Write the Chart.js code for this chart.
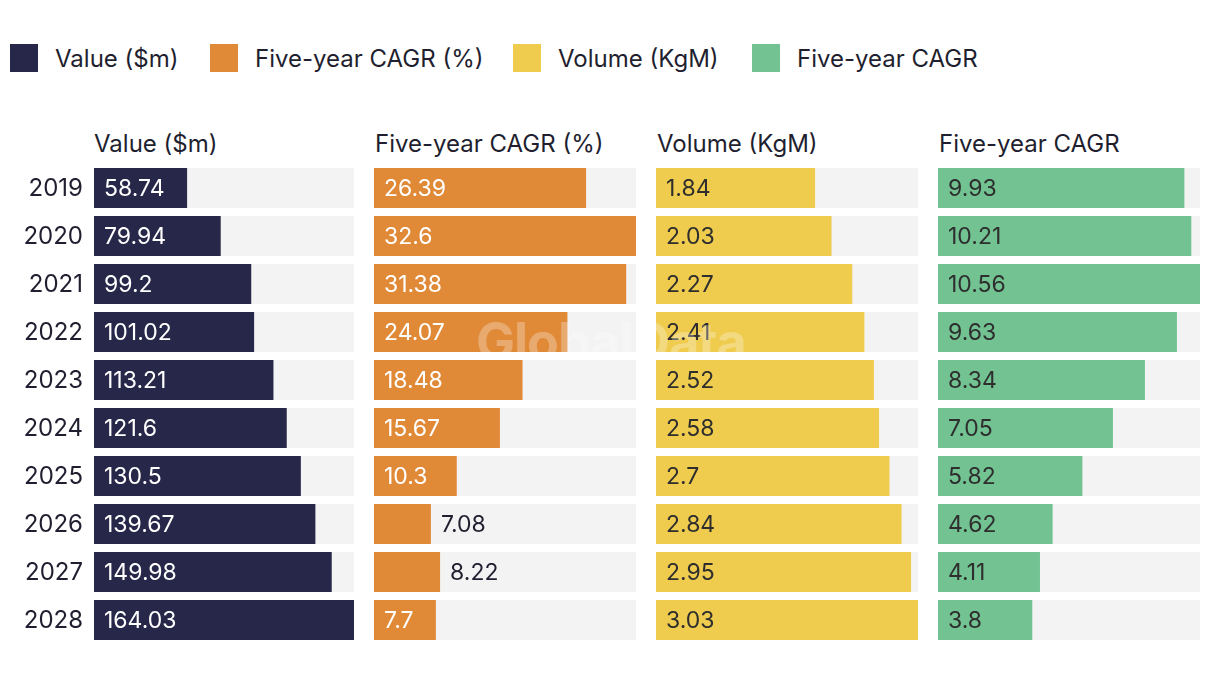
<!DOCTYPE html>
<html>
<head>
<meta charset="utf-8">
<script src="https://cdn.jsdelivr.net/npm/chart.js"></script>
<style>
  body { margin: 0; background: #fff; font-family: Inter, "Noto Sans", sans-serif; color: #1f1f30; }
  #wrap { position: relative; width: 1220px; height: 684px; overflow: hidden; }
  .item { position: absolute; top: 44px; height: 28px; display: flex; align-items: center; font-size: 24px; white-space: nowrap; }
  .item span.box { display: inline-block; width: 28px; height: 28px; margin-right: 17px; }
  .head { position: absolute; top: 129px; font-size: 24px; }
  canvas { position: absolute; }
  #mark { position: absolute; left: 476px; top: 310px; font-size: 52px; font-weight: 700; color: rgba(255,255,255,0.28); pointer-events: none; letter-spacing: -1px; }
</style>
</head>
<body>
<div id="wrap">
  <div class="head" style="left:94px">Value ($m)</div>
  <div class="head" style="left:375px">Five-year CAGR (%)</div>
  <div class="head" style="left:657px">Volume (KgM)</div>
  <div class="head" style="left:939px">Five-year CAGR</div>
  <canvas id="c0" width="354" height="480" style="left:0;top:164px"></canvas>
  <canvas id="c1" width="262" height="480" style="left:374px;top:164px"></canvas>
  <canvas id="c2" width="262" height="480" style="left:656px;top:164px"></canvas>
  <canvas id="c3" width="262" height="480" style="left:938px;top:164px"></canvas>
  <div id="mark">GlobalData</div>
</div>
<script>
const years = ["2019", "2020", "2021", "2022", "2023", "2024", "2025", "2026", "2027", "2028"];
const valueM = [58.74, 79.94, 99.2, 101.02, 113.21, 121.6, 130.5, 139.67, 149.98, 164.03];
const valueCagr = [26.39, 32.6, 31.38, 24.07, 18.48, 15.67, 10.3, 7.08, 8.22, 7.7];
const volumeKgM = [1.84, 2.03, 2.27, 2.41, 2.52, 2.58, 2.7, 2.84, 2.95, 3.03];
const volumeCagr = [9.93, 10.21, 10.56, 9.63, 8.34, 7.05, 5.82, 4.62, 4.11, 3.8];

const panels = [
  { id: "c0", label: "Value ($m)", data: valueM, color: "#27274a", inText: "#ffffff", axis: true, lx: 10 },
  { id: "c1", label: "Five-year CAGR (%)", data: valueCagr, color: "#e08a38", inText: "#ffffff", lx: 210 },
  { id: "c2", label: "Volume (KgM)", data: volumeKgM, color: "#efcb4e", inText: "#2e2e2e", lx: 513 },
  { id: "c3", label: "Five-year CAGR", data: volumeCagr, color: "#72c292", inText: "#2e2e2e", lx: 752 }
];

const FONT = "Inter, 'Noto Sans', sans-serif";
const wrap = document.getElementById("wrap");
panels.forEach(p => {
  const it = document.createElement("div");
  it.className = "item";
  it.style.left = p.lx + "px";
  it.innerHTML = '<span class="box" style="background:' + p.color + '"></span>' + p.label;
  wrap.appendChild(it);
});

// writes each value inside its bar, or just past it when it doesn't fit;
// the first panel also gets the year labels on its left
const barLabels = {
  id: "barLabels",
  afterDatasetsDraw(chart, args, opts) {
    const ctx = chart.ctx;
    const meta = chart.getDatasetMeta(1);
    ctx.save();
    ctx.textBaseline = "middle";
    meta.data.forEach((bar, i) => {
      ctx.font = "23px " + FONT;
      const txt = String(chart.data.datasets[1].data[i]);
      const w = ctx.measureText(txt).width;
      ctx.textAlign = "left";
      if (bar.base + 10 + w + 12 <= bar.x) {
        ctx.fillStyle = opts.inText;
        ctx.fillText(txt, bar.base + 10, bar.y + 1);
      } else {
        ctx.fillStyle = "#1f1f30";
        ctx.fillText(txt, bar.x + 10, bar.y + 1);
      }
      if (opts.years) {
        ctx.font = "24px " + FONT;
        ctx.fillStyle = "#1f1f30";
        ctx.textAlign = "right";
        ctx.fillText(chart.data.labels[i], bar.base - 11, bar.y + 1);
      }
    });
    ctx.restore();
  }
};

panels.forEach(p => {
  const max = Math.max(...p.data);
  new Chart(document.getElementById(p.id), {
    type: "bar",
    data: {
      labels: years,
      datasets: [
        { data: years.map(() => max), backgroundColor: "#f3f3f3", order: 2 },
        { data: p.data, backgroundColor: p.color, order: 1 }
      ]
    },
    options: {
      indexAxis: "y",
      responsive: false,
      animation: false,
      layout: { padding: { left: p.axis ? 94 : 0, right: 0, top: 0, bottom: 0 } },
      datasets: { bar: { grouped: false, categoryPercentage: 1, barPercentage: 40 / 48 } },
      scales: {
        x: { display: false, min: 0, max: max },
        y: { display: false }
      },
      plugins: {
        legend: { display: false },
        tooltip: { enabled: false },
        barLabels: { inText: p.inText, years: !!p.axis }
      }
    },
    plugins: [barLabels]
  });
});
</script>
</body>
</html>
